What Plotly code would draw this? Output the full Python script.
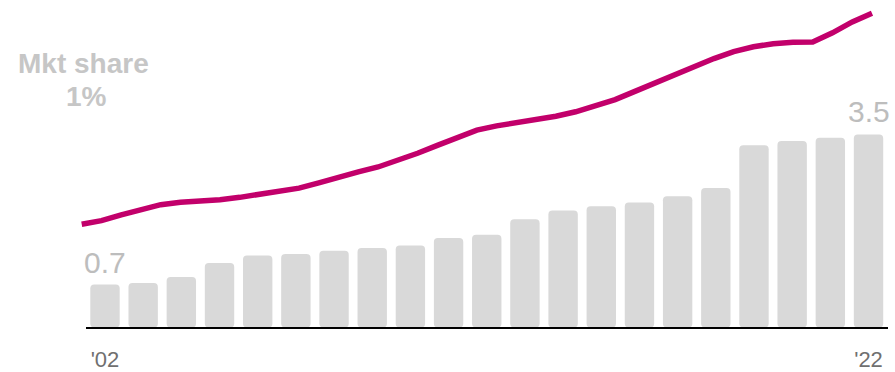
import plotly.graph_objects as go

# Bars: yearly values 2002-2022
bar_years = list(range(2002, 2023))
bar_values = [0.70, 0.73, 0.84, 1.10, 1.24, 1.27, 1.33, 1.38, 1.43, 1.57, 1.63,
              1.92, 2.08, 2.16, 2.23, 2.35, 2.50, 3.30, 3.38, 3.44, 3.50]

# Market share line, semi-annual
share_years = [2002 + 0.5 * k for k in range(41)]
share_values = [1.000, 1.037, 1.095, 1.143, 1.198, 1.222, 1.232, 1.247, 1.272, 1.306,
                1.333, 1.365, 1.418, 1.478, 1.530, 1.579, 1.643, 1.718, 1.797, 1.879,
                1.951, 1.995, 2.023, 2.060, 2.092, 2.137, 2.194, 2.260, 2.343, 2.425,
                2.522, 2.598, 2.675, 2.746, 2.794, 2.825, 2.841, 2.843, 2.935, 3.046,
                3.134]

tick_vals = [2002, 2022]
tick_text = ["'02", "'22"]

FONT = "Liberation Sans, Arial, Helvetica, sans-serif"
BASE = -0.1

fig = go.Figure()
fig.add_trace(go.Bar(
    x=bar_years, y=[v - BASE for v in bar_values], base=BASE,
    marker=dict(color="#d9d9d9", line=dict(width=0)),
    xaxis="x", yaxis="y", hoverinfo="skip",
))
fig.add_trace(go.Scatter(
    x=share_years, y=share_values, mode="lines",
    line=dict(color="#c2006b", width=5.5),
    xaxis="x2", yaxis="y2", hoverinfo="skip",
))

fig.add_annotation(x=bar_years[0], y=bar_values[0], xref="x", yref="y",
                   text=f"{bar_values[0]:.1f}", showarrow=False, yanchor="bottom",
                   xanchor="center", yshift=4,
                   font=dict(family=FONT, size=30, color="#bdbdbd"))
fig.add_annotation(x=bar_years[-1], y=bar_values[-1], xref="x", yref="y",
                   text=f"{bar_values[-1]:.1f}", showarrow=False, yanchor="bottom",
                   xanchor="center", yshift=4,
                   font=dict(family=FONT, size=30, color="#bdbdbd"))

fig.add_annotation(x=83 / 895, y=1 - 64 / 372, xref="paper", yref="paper",
                   text="<b>Mkt share</b>", showarrow=False,
                   xanchor="center", yanchor="middle",
                   font=dict(family=FONT, size=28, color="#c6c6c6"))
fig.add_annotation(x=86 / 895, y=1 - 98 / 372, xref="paper", yref="paper",
                   text=f"<b>{share_values[0]:.0f}%</b>", showarrow=False,
                   xanchor="center", yanchor="middle",
                   font=dict(family=FONT, size=28, color="#c6c6c6"))

fig.update_layout(
    width=895, height=372, autosize=False,
    margin=dict(l=0, r=0, t=0, b=0),
    paper_bgcolor="white", plot_bgcolor="rgba(0,0,0,0)",
    showlegend=False, bargap=0.23,
    barcornerradius=4,
    xaxis=dict(domain=[85.9 / 895, 887.6 / 895], range=[2001.5, 2022.5],
               tickvals=tick_vals, ticktext=tick_text,
               tickfont=dict(family=FONT, size=22, color="#707070"),
               ticks="outside", ticklen=11, tickcolor="rgba(0,0,0,0)",
               showgrid=False, zeroline=False, showline=True,
               linecolor="black", linewidth=1.5, anchor="y", fixedrange=True),
    yaxis=dict(domain=[41 / 372, 1], range=[BASE, BASE + 331 / 54.18],
               visible=False, anchor="x", fixedrange=True),
    xaxis2=dict(domain=[77.75 / 895, 875.95 / 895], range=[2001.9, 2022.1],
                visible=False, anchor="y2", fixedrange=True),
    yaxis2=dict(domain=[0, 1], range=[-0.453, 3.267], visible=False,
                anchor="x2", fixedrange=True),
)

fig.write_html("out.html")
